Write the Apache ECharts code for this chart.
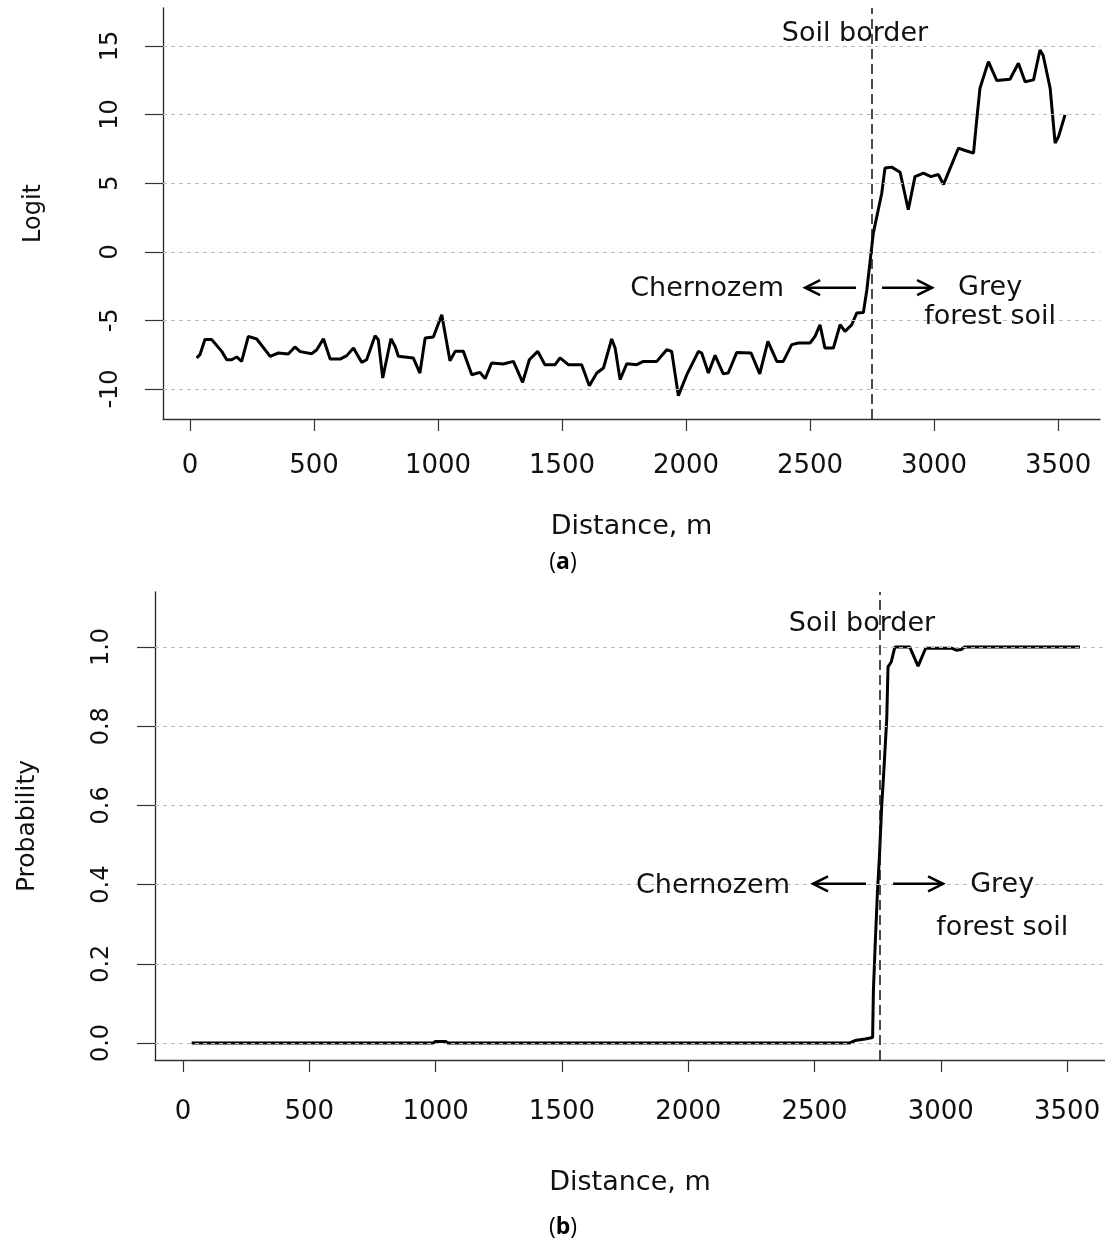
<!DOCTYPE html>
<html><head><meta charset="utf-8">
<script src="https://cdn.jsdelivr.net/npm/echarts@6/dist/echarts.min.js"></script>
<style>html,body{margin:0;padding:0;background:#fff}#c{width:1105px;height:1241px}</style>
</head><body><div id="c"></div>
<script>
// ---- Panel (a): logit along the transect ----
const distA = [27,40,60,87,128,148,168,188,208,235,269,323,356,396,423,444,491,511,538,565,605,632,659,692,712,746,759,777,810,827,840,900,927,948,981,1015,1048,1069,1102,1136,1169,1190,1216,1263,1304,1341,1368,1402,1431,1472,1492,1525,1579,1610,1640,1667,1700,1714,1734,1761,1801,1828,1882,1922,1942,1969,2003,2050,2063,2090,2117,2150,2170,2204,2262,2297,2330,2366,2392,2426,2453,2500,2520,2540,2560,2594,2621,2641,2668,2688,2715,2729,2742,2755,2789,2802,2829,2863,2896,2923,2957,2987,3017,3038,3065,3098,3125,3159,3172,3185,3219,3253,3306,3340,3367,3401,3427,3440,3468,3488,3502,3528];
const logitA = [-7.74,-7.5,-6.4,-6.4,-7.26,-7.87,-7.87,-7.67,-7.99,-6.17,-6.36,-7.62,-7.38,-7.45,-6.94,-7.28,-7.43,-7.14,-6.34,-7.82,-7.82,-7.57,-7.02,-8.06,-7.87,-6.12,-6.41,-9.2,-6.34,-6.9,-7.62,-7.74,-8.84,-6.29,-6.21,-4.59,-7.95,-7.26,-7.26,-8.96,-8.79,-9.25,-8.11,-8.18,-7.99,-9.52,-7.87,-7.26,-8.23,-8.23,-7.74,-8.23,-8.23,-9.76,-8.84,-8.47,-6.36,-7.02,-9.32,-8.16,-8.23,-7.99,-7.99,-7.14,-7.26,-10.49,-8.96,-7.26,-7.38,-8.84,-7.55,-8.9,-8.84,-7.35,-7.38,-8.9,-6.53,-7.99,-7.99,-6.77,-6.65,-6.65,-6.17,-5.32,-7.02,-7.02,-5.32,-5.8,-5.32,-4.47,-4.42,-2.77,-0.7,1.36,4.27,6.1,6.17,5.8,3.06,5.48,5.73,5.48,5.63,4.9,6.1,7.55,7.38,7.19,9.61,11.92,13.86,12.48,12.58,13.74,12.4,12.53,14.71,14.3,11.92,7.92,8.4,9.98];

// ---- Panel (b): probability along the transect ----
const distB = [34,245,250,255,752,760,990,1000,1040,1048,2640,2660,2700,2730,2733,2740,2749,2757,2766,2773,2786,2791,2804,2818,2877,2910,2940,3042,3061,3081,3094,3551];
const probB = [0.0,0.0,0.002,0.0,0.0,0.0,0.0,0.004,0.004,0.0,0.0,0.006,0.01,0.014,0.13,0.245,0.38,0.47,0.6,0.67,0.82,0.95,0.963,1.0,1.0,0.952,0.997,0.997,0.992,0.994,1.0,1.0];

// ---- ticks & markers ----
const xTicks = [0,500,1000,1500,2000,2500,3000,3500];
const logitTicks = [-10,-5,0,5,10,15];
const probTicks = [0,0.2,0.4,0.6,0.8,1.0];
const borderA = 2750;
const borderB = 2760;

const FONT = '"DejaVu Sans", sans-serif';
const TXT = '#111';
const chart = echarts.init(document.getElementById('c'), null, {renderer:'canvas'});

function xAxisCfg(g, min, max, margin, gap){
  return {gridIndex:g, type:'value', min:min, max:max,
    axisLine:{show:true, onZero:false, lineStyle:{color:'#333', width:1.3}},
    axisTick:{show:true, length:12, customValues:xTicks, lineStyle:{color:'#333', width:1.2}},
    axisLabel:{customValues:xTicks, margin:margin, fontFamily:FONT, fontSize:26, color:TXT, formatter:v=>String(v)},
    splitLine:{show:false},
    name:'Distance, m', nameLocation:'middle', nameGap:gap,
    nameTextStyle:{fontFamily:FONT, fontSize:27, color:TXT}};
}
function yAxisCfg(g, min, max, ticks, fs, margin, name, nfs, gap, fmt){
  return {gridIndex:g, type:'value', min:min, max:max,
    axisLine:{show:true, onZero:false, lineStyle:{color:'#222', width:1.3}},
    axisTick:{show:true, length:18, customValues:ticks, lineStyle:{color:'#333', width:1.2}},
    axisLabel:{customValues:ticks, rotate:90, margin:margin, fontFamily:FONT, fontSize:fs, color:TXT, formatter:fmt},
    splitLine:{show:false},
    name:name, nameLocation:'middle', nameGap:gap,
    nameTextStyle:{fontFamily:FONT, fontSize:nfs, color:TXT}};
}
const gridStyle = {color:'#bdbdbd', type:[4,4], width:1};
const borderStyle = {color:'#111', type:[10,5], width:1.5};

const option = {
  animation:false,
  backgroundColor:'#fff',
  grid:[{left:163, top:8, width:937, height:411},
        {left:155, top:592, width:950, height:468}],
  xAxis:[xAxisCfg(0,-109,3669,34,94), xAxisCfg(1,-111,3650,39,109)],
  yAxis:[yAxisCfg(0,-12.19,17.77,logitTicks,24,40,'Logit',24,117, v=>String(v)),
         yAxisCfg(1,-0.043,1.139,probTicks,24,41,'Probability',25,115, v=>v.toFixed(1))],
  series:[
    {type:'line', xAxisIndex:0, yAxisIndex:0, data:[], z:1, silent:true,
     markLine:{silent:true, symbol:'none', label:{show:false}, lineStyle:gridStyle,
       data:logitTicks.map(v=>({yAxis:v}))}},
    {type:'line', xAxisIndex:1, yAxisIndex:1, data:[], z:1, silent:true,
     markLine:{silent:true, symbol:'none', label:{show:false}, lineStyle:gridStyle,
       data:probTicks.map(v=>({yAxis:v}))}},
    {type:'line', xAxisIndex:0, yAxisIndex:0, z:3, showSymbol:false, silent:true,
     lineStyle:{color:'#000', width:3}, data:distA.map((d,i)=>[d, logitA[i]]),
     markLine:{silent:true, symbol:'none', label:{show:false}, lineStyle:borderStyle,
       data:[{xAxis:borderA}]}},
    {type:'line', xAxisIndex:1, yAxisIndex:1, z:3, showSymbol:false, silent:true,
     lineStyle:{color:'#000', width:3}, data:distB.map((d,i)=>[d, probB[i]]),
     markLine:{silent:true, symbol:'none', label:{show:false}, lineStyle:borderStyle,
       data:[{xAxis:borderB}]}}
  ]
};
chart.setOption(option);

// ---- annotations placed in data coordinates ----
const notes = [
  {g:0, x:2681, y:15.87, t:'Soil border'},
  {g:0, x:2085, y:-2.70, t:'Chernozem'},
  {g:0, x:3226, y:-2.62, t:'Grey'},
  {g:0, x:3226, y:-4.75, t:'forest soil'},
  {g:1, x:2688, y:1.058, t:'Soil border'},
  {g:1, x:2098, y:0.396, t:'Chernozem'},
  {g:1, x:3243, y:0.399, t:'Grey'},
  {g:1, x:3243, y:0.29, t:'forest soil'}
];
const arrows = [
  {g:0, x0:2685, x1:2480, y:-2.62},
  {g:0, x0:2790, x1:2992, y:-2.62},
  {g:1, x0:2704, x1:2494, y:0.402},
  {g:1, x0:2811, x1:3009, y:0.402}
];
const gfx = [];
notes.forEach(n=>{
  const p = chart.convertToPixel({gridIndex:n.g}, [n.x, n.y]);
  gfx.push({type:'text', x:p[0], y:p[1], z:10, silent:true,
    style:{text:n.t, font:'27px '+FONT, fill:TXT, align:'center', verticalAlign:'middle'}});
});
arrows.forEach(a=>{
  const p0 = chart.convertToPixel({gridIndex:a.g}, [a.x0, a.y]);
  const p1 = chart.convertToPixel({gridIndex:a.g}, [a.x1, a.y]);
  const dir = p1[0] > p0[0] ? 1 : -1;
  const L = 15, H = 7.5;
  gfx.push({type:'polyline', z:10, silent:true, shape:{points:[p0, p1]},
    style:{stroke:'#000', lineWidth:2.5, fill:null}});
  gfx.push({type:'polyline', z:10, silent:true,
    shape:{points:[[p1[0]-dir*L, p1[1]-H],[p1[0], p1[1]],[p1[0]-dir*L, p1[1]+H]]},
    style:{stroke:'#000', lineWidth:2.5, fill:null, lineJoin:'miter'}});
});
[['a',562],['b',1227]].forEach(([c,y])=>{
  gfx.push({type:'text', x:563, y:y, z:10, silent:true,
    style:{text:'{p|(}{b|'+c+'}{p|)}', align:'center', verticalAlign:'middle',
      rich:{p:{fontFamily:'"Open Sans", sans-serif', fontSize:23, fill:'#000'},
            b:{fontFamily:'"Open Sans", sans-serif', fontSize:23, fontWeight:'bold', fill:'#000'}}}});
});
chart.setOption({graphic:gfx});
</script>
</body></html>
